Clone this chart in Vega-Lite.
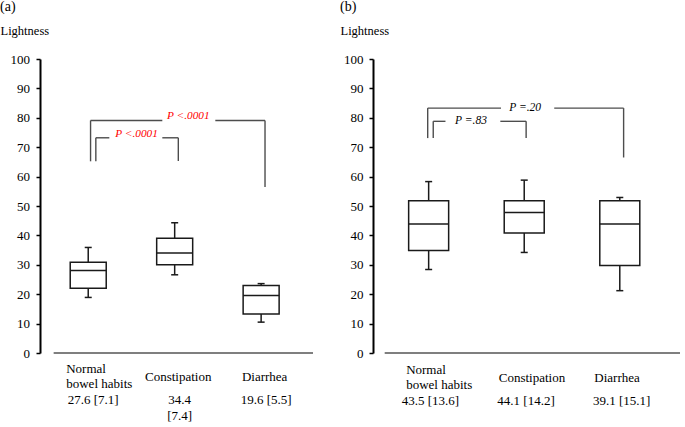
{
  "$schema": "https://vega.github.io/schema/vega-lite/v6.json",
  "background": "white",
  "padding": 0,
  "spacing": 22,
  "config": {
    "view": {"stroke": null},
    "font": "Liberation Serif",
    "text": {"font": "Liberation Serif"},
    "title": {"font": "Liberation Serif", "fontSize": 14, "fontWeight": "normal", "color": "black"},
    "axis": {"labelFont": "Liberation Serif", "titleFont": "Liberation Serif", "labelFontSize": 13, "labelColor": "black", "labelOverlap": false, "grid": false, "domainColor": "black", "domainWidth": 2, "tickColor": "black", "tickWidth": 1.5, "tickSize": 4, "titleFontWeight": "normal", "titleColor": "black", "titleFontSize": 12.5}
  },
  "datasets": {
    "boxesA": [
      {"group": "Normal bowel habits", "pos": 1, "lower": 18.9, "q1": 22.0, "median": 28.1, "q3": 30.9, "upper": 35.9},
      {"group": "Constipation", "pos": 2, "lower": 26.6, "q1": 30.0, "median": 34.0, "q3": 39.0, "upper": 44.3},
      {"group": "Diarrhea", "pos": 3, "lower": 10.5, "q1": 13.3, "median": 19.6, "q3": 23.0, "upper": 23.6}
    ],
    "boxesB": [
      {"group": "Normal bowel habits", "pos": 1, "lower": 28.4, "q1": 34.9, "median": 43.9, "q3": 51.8, "upper": 58.3},
      {"group": "Constipation", "pos": 2, "lower": 34.2, "q1": 40.8, "median": 47.8, "q3": 51.8, "upper": 58.8},
      {"group": "Diarrhea", "pos": 3, "lower": 21.2, "q1": 29.8, "median": 43.9, "q3": 51.8, "upper": 52.9}
    ],
    "labelsA": [
      {"pos": 1, "kind": "n1", "text": "Normal"},
      {"pos": 1, "kind": "n2", "text": "bowel habits"},
      {"pos": 2, "kind": "n", "text": "Constipation"},
      {"pos": 3, "kind": "n", "text": "Diarrhea"},
      {"pos": 1, "kind": "s", "text": "27.6 [7.1]"},
      {"pos": 2, "kind": "s", "text": "34.4"},
      {"pos": 2, "kind": "s2", "text": "[7.4]"},
      {"pos": 3, "kind": "s", "text": "19.6 [5.5]"}
    ],
    "labelsB": [
      {"pos": 1, "kind": "n1", "text": "Normal"},
      {"pos": 1, "kind": "n2", "text": "bowel habits"},
      {"pos": 2, "kind": "n", "text": "Constipation"},
      {"pos": 3, "kind": "n", "text": "Diarrhea"},
      {"pos": 1, "kind": "s", "text": "43.5 [13.6]"},
      {"pos": 2, "kind": "s", "text": "44.1 [14.2]"},
      {"pos": 3, "kind": "s", "text": "39.1 [15.1]"}
    ],
    "segsA": [
      {"x": 1.027, "x2": 1.027, "y": 65.2, "y2": 79.1},
      {"x": 1.027, "x2": 1.857, "y": 79.1, "y2": 79.1},
      {"x": 2.47, "x2": 3.045, "y": 79.1, "y2": 79.1},
      {"x": 3.045, "x2": 3.045, "y": 56.5, "y2": 79.1},
      {"x": 1.088, "x2": 1.088, "y": 65.2, "y2": 73.2},
      {"x": 1.088, "x2": 1.244, "y": 73.2, "y2": 73.2},
      {"x": 1.857, "x2": 2.042, "y": 73.2, "y2": 73.2},
      {"x": 2.042, "x2": 2.042, "y": 65.3, "y2": 73.2}
    ],
    "segsB": [
      {"x": 0.99, "x2": 0.99, "y": 73.1, "y2": 83.3},
      {"x": 0.99, "x2": 1.757, "y": 83.3, "y2": 83.3},
      {"x": 2.314, "x2": 3.04, "y": 83.3, "y2": 83.3},
      {"x": 3.04, "x2": 3.04, "y": 66.5, "y2": 83.3},
      {"x": 1.048, "x2": 1.048, "y": 73.1, "y2": 78.8},
      {"x": 1.048, "x2": 1.176, "y": 78.8, "y2": 78.8},
      {"x": 1.75, "x2": 2.02, "y": 78.8, "y2": 78.8},
      {"x": 2.02, "x2": 2.02, "y": 73.1, "y2": 78.8}
    ],
    "ptextA": [
      {"tx": 2.158, "y": 79.1, "label": "P <.0001"},
      {"tx": 1.559, "y": 73.2, "label": "P <.0001"}
    ],
    "ptextB": [
      {"tx": 2.01, "y": 83.3, "label": "P =.20"},
      {"tx": 1.443, "y": 78.8, "label": "P =.83"}
    ]
  },
  "hconcat": [
    {
      "width": 278,
      "height": 294,
      "title": {"text": "(a)", "anchor": "start", "frame": "bounds", "offset": 10},
      "resolve": {"axis": {"x": "independent", "y": "independent"}},
      "layer": [
        {
          "data": {"name": "boxesA"},
          "mark": {"type": "rule", "color": "#1a1a1a", "strokeWidth": 1.5},
          "encoding": {
            "x": {"field": "pos", "type": "quantitative", "scale": {"domain": [0.5, 3.6], "nice": false, "zero": false}, "axis": null},
            "y": {"field": "lower", "type": "quantitative", "scale": {"domain": [0, 100], "nice": false},
              "axis": {"title": "Lightness", "titleAngle": 0, "titleAlign": "left", "titleBaseline": "alphabetic", "titleX": -40, "titleY": -25, "values": [0, 10, 20, 30, 40, 50, 60, 70, 80, 90, 100], "tickCount": 11, "labelOverlap": false, "labelPadding": 6.5}},
            "y2": {"field": "upper"}
          }
        },
        {
          "data": {"name": "boxesA"},
          "mark": {"type": "bar", "width": 36, "fill": "white", "stroke": "#1a1a1a", "strokeWidth": 1.5},
          "encoding": {
            "x": {"field": "pos", "type": "quantitative", "axis": null},
            "y": {"field": "q1", "type": "quantitative", "axis": null},
            "y2": {"field": "q3"}
          }
        },
        {
          "data": {"name": "boxesA"},
          "mark": {"type": "tick", "orient": "horizontal", "size": 36, "thickness": 1.5, "color": "#1a1a1a", "opacity": 1},
          "encoding": {
            "x": {"field": "pos", "type": "quantitative", "axis": null},
            "y": {"field": "median", "type": "quantitative", "axis": null}
          }
        },
        {
          "data": {"name": "boxesA"},
          "mark": {"type": "tick", "orient": "horizontal", "size": 7, "thickness": 1.5, "color": "#1a1a1a", "opacity": 1},
          "encoding": {
            "x": {"field": "pos", "type": "quantitative", "axis": null},
            "y": {"field": "upper", "type": "quantitative", "axis": null}
          }
        },
        {
          "data": {"name": "boxesA"},
          "mark": {"type": "tick", "orient": "horizontal", "size": 7, "thickness": 1.5, "color": "#1a1a1a", "opacity": 1},
          "encoding": {
            "x": {"field": "pos", "type": "quantitative", "axis": null},
            "y": {"field": "lower", "type": "quantitative", "axis": null}
          }
        },
        {
          "data": {"values": [{}]},
          "mark": {"type": "rule", "color": "#555555", "strokeWidth": 1.3},
          "encoding": {
            "x": {"datum": 0.6, "type": "quantitative", "axis": null},
            "x2": {"datum": 3.6},
            "y": {"datum": 0, "type": "quantitative", "axis": null}
          }
        },
        {
          "data": {"name": "segsA"},
          "mark": {"type": "rule", "color": "#4d4d4d", "strokeWidth": 1.4},
          "encoding": {
            "x": {"field": "x", "type": "quantitative", "axis": null},
            "x2": {"field": "x2"},
            "y": {"field": "y", "type": "quantitative", "axis": null},
            "y2": {"field": "y2"}
          }
        },
        {
          "data": {"name": "ptextA"},
          "mark": {"type": "text", "fontStyle": "italic", "fontSize": 11.3, "color": "#ff0000", "baseline": "alphabetic", "align": "center", "dy": -1},
          "encoding": {
            "x": {"field": "tx", "type": "quantitative", "axis": null},
            "y": {"field": "y", "type": "quantitative", "axis": null},
            "text": {"field": "label"}
          }
        },
        {
          "data": {"name": "labelsA"},
          "transform": [{"filter": "datum.kind === 'n1'"}],
          "mark": {"type": "text", "fontSize": 13, "color": "black", "baseline": "alphabetic", "align": "left", "dx": -22},
          "encoding": {"x": {"field": "pos", "type": "quantitative", "axis": null}, "y": {"datum": -6.92, "type": "quantitative", "axis": null}, "text": {"field": "text"}}
        },
        {
          "data": {"name": "labelsA"},
          "transform": [{"filter": "datum.kind === 'n2'"}],
          "mark": {"type": "text", "fontSize": 13, "color": "black", "baseline": "alphabetic", "align": "left", "dx": -22},
          "encoding": {"x": {"field": "pos", "type": "quantitative", "axis": null}, "y": {"datum": -12.03, "type": "quantitative", "axis": null}, "text": {"field": "text"}}
        },
        {
          "data": {"name": "labelsA"},
          "transform": [{"filter": "datum.kind === 'n'"}],
          "mark": {"type": "text", "fontSize": 13, "color": "black", "baseline": "alphabetic", "align": "center", "dx": 3.5},
          "encoding": {"x": {"field": "pos", "type": "quantitative", "axis": null}, "y": {"datum": -9.54, "type": "quantitative", "axis": null}, "text": {"field": "text"}}
        },
        {
          "data": {"name": "labelsA"},
          "transform": [{"filter": "datum.kind === 's'"}],
          "mark": {"type": "text", "fontSize": 13, "color": "black", "baseline": "alphabetic", "align": "center", "dx": 5},
          "encoding": {"x": {"field": "pos", "type": "quantitative", "axis": null}, "y": {"datum": -17.48, "type": "quantitative", "axis": null}, "text": {"field": "text"}}
        },
        {
          "data": {"name": "labelsA"},
          "transform": [{"filter": "datum.kind === 's2'"}],
          "mark": {"type": "text", "fontSize": 13, "color": "black", "baseline": "alphabetic", "align": "center", "dx": 5},
          "encoding": {"x": {"field": "pos", "type": "quantitative", "axis": null}, "y": {"datum": -22.8, "type": "quantitative", "axis": null}, "text": {"field": "text"}}
        }
      ]
    },
    {
      "width": 312,
      "height": 294,
      "title": {"text": "(b)", "anchor": "start", "frame": "bounds", "offset": 10},
      "resolve": {"axis": {"x": "independent", "y": "independent"}},
      "layer": [
        {
          "data": {"name": "boxesB"},
          "mark": {"type": "rule", "color": "#1a1a1a", "strokeWidth": 1.5},
          "encoding": {
            "x": {"field": "pos", "type": "quantitative", "scale": {"domain": [0.47, 3.63], "nice": false, "zero": false}, "axis": null},
            "y": {"field": "lower", "type": "quantitative", "scale": {"domain": [0, 100], "nice": false},
              "axis": {"title": "Lightness", "titleAngle": 0, "titleAlign": "left", "titleBaseline": "alphabetic", "titleX": -33, "titleY": -25, "values": [0, 10, 20, 30, 40, 50, 60, 70, 80, 90, 100], "tickCount": 11, "labelOverlap": false, "labelPadding": 6}},
            "y2": {"field": "upper"}
          }
        },
        {
          "data": {"name": "boxesB"},
          "mark": {"type": "bar", "width": 40, "fill": "white", "stroke": "#1a1a1a", "strokeWidth": 1.5},
          "encoding": {
            "x": {"field": "pos", "type": "quantitative", "axis": null},
            "y": {"field": "q1", "type": "quantitative", "axis": null},
            "y2": {"field": "q3"}
          }
        },
        {
          "data": {"name": "boxesB"},
          "mark": {"type": "tick", "orient": "horizontal", "size": 40, "thickness": 1.5, "color": "#1a1a1a", "opacity": 1},
          "encoding": {
            "x": {"field": "pos", "type": "quantitative", "axis": null},
            "y": {"field": "median", "type": "quantitative", "axis": null}
          }
        },
        {
          "data": {"name": "boxesB"},
          "mark": {"type": "tick", "orient": "horizontal", "size": 7, "thickness": 1.5, "color": "#1a1a1a", "opacity": 1},
          "encoding": {
            "x": {"field": "pos", "type": "quantitative", "axis": null},
            "y": {"field": "upper", "type": "quantitative", "axis": null}
          }
        },
        {
          "data": {"name": "boxesB"},
          "mark": {"type": "tick", "orient": "horizontal", "size": 7, "thickness": 1.5, "color": "#1a1a1a", "opacity": 1},
          "encoding": {
            "x": {"field": "pos", "type": "quantitative", "axis": null},
            "y": {"field": "lower", "type": "quantitative", "axis": null}
          }
        },
        {
          "data": {"values": [{}]},
          "mark": {"type": "rule", "color": "#555555", "strokeWidth": 1.3},
          "encoding": {
            "x": {"datum": 0.54, "type": "quantitative", "axis": null},
            "x2": {"datum": 3.63},
            "y": {"datum": 0, "type": "quantitative", "axis": null}
          }
        },
        {
          "data": {"name": "segsB"},
          "mark": {"type": "rule", "color": "#4d4d4d", "strokeWidth": 1.4},
          "encoding": {
            "x": {"field": "x", "type": "quantitative", "axis": null},
            "x2": {"field": "x2"},
            "y": {"field": "y", "type": "quantitative", "axis": null},
            "y2": {"field": "y2"}
          }
        },
        {
          "data": {"name": "ptextB"},
          "mark": {"type": "text", "fontStyle": "italic", "fontSize": 11.5, "color": "black", "baseline": "middle", "align": "center"},
          "encoding": {
            "x": {"field": "tx", "type": "quantitative", "axis": null},
            "y": {"field": "y", "type": "quantitative", "axis": null},
            "text": {"field": "label"}
          }
        },
        {
          "data": {"name": "labelsB"},
          "transform": [{"filter": "datum.kind === 'n1'"}],
          "mark": {"type": "text", "fontSize": 13, "color": "black", "baseline": "alphabetic", "align": "left", "dx": -22.5},
          "encoding": {"x": {"field": "pos", "type": "quantitative", "axis": null}, "y": {"datum": -7.04, "type": "quantitative", "axis": null}, "text": {"field": "text"}}
        },
        {
          "data": {"name": "labelsB"},
          "transform": [{"filter": "datum.kind === 'n2'"}],
          "mark": {"type": "text", "fontSize": 13, "color": "black", "baseline": "alphabetic", "align": "left", "dx": -22.5},
          "encoding": {"x": {"field": "pos", "type": "quantitative", "axis": null}, "y": {"datum": -12.24, "type": "quantitative", "axis": null}, "text": {"field": "text"}}
        },
        {
          "data": {"name": "labelsB"},
          "transform": [{"filter": "datum.kind === 'n'"}],
          "mark": {"type": "text", "fontSize": 13, "color": "black", "baseline": "alphabetic", "align": "left", "dx": -25.5},
          "encoding": {"x": {"field": "pos", "type": "quantitative", "axis": null}, "y": {"datum": -9.76, "type": "quantitative", "axis": null}, "text": {"field": "text"}}
        },
        {
          "data": {"name": "labelsB"},
          "transform": [{"filter": "datum.kind === 's'"}],
          "mark": {"type": "text", "fontSize": 13, "color": "black", "baseline": "alphabetic", "align": "center", "dx": 1.8},
          "encoding": {"x": {"field": "pos", "type": "quantitative", "axis": null}, "y": {"datum": -17.7, "type": "quantitative", "axis": null}, "text": {"field": "text"}}
        }
      ]
    }
  ]
}
